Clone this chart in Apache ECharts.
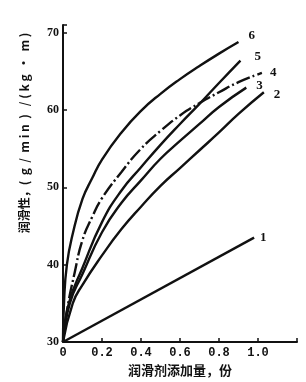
<!DOCTYPE html>
<html lang="zh">

<head>
  <meta charset="UTF-8">
  <title>润滑性</title>
  <style>
    html, body {
      margin: 0;
      padding: 0;
      background: #fff;
    }

    #chart {
      width: 306px;
      height: 382px;
    }
  </style>
</head>

<body>
  <div id="chart"></div>

  <script src="https://cdn.jsdelivr.net/npm/echarts@6/dist/echarts.min.js"></script>
  <script>
    // curve values: [additive parts, lubricity]
    const curve1 = [[0, 30], [0.98, 43.5]];
    const curve2 = [[0, 30], [0.05, 35], [0.1, 37.4], [0.2, 41.2], [0.3, 44.6], [0.4, 47.5], [0.5, 50.2], [0.6, 52.5], [0.7, 54.8], [0.8, 57.1], [0.9, 59.5], [1.03, 62.3]];
    const curve3 = [[0, 30], [0.035, 35], [0.1, 38.8], [0.2, 44.2], [0.3, 48], [0.4, 50.9], [0.5, 53.7], [0.6, 56], [0.7, 58.2], [0.8, 60.4], [0.94, 62.9]];
    const curve4 = [[0, 30], [0.02, 34], [0.06, 39], [0.1, 43.2], [0.15, 46.2], [0.2, 48.6], [0.3, 52], [0.4, 55], [0.5, 57.3], [0.6, 59.3], [0.7, 60.9], [0.8, 62.3], [0.9, 63.6], [1.02, 64.8]];
    const curve5 = [[0, 30], [0.03, 35], [0.1, 39.6], [0.2, 45.5], [0.3, 49.6], [0.4, 52.6], [0.5, 55.5], [0.6, 58.2], [0.7, 60.8], [0.8, 63.5], [0.91, 66.4]];
    const curve6 = [[0, 30], [0.005, 35], [0.02, 40], [0.05, 44], [0.1, 48.5], [0.15, 51.2], [0.2, 53.6], [0.3, 57.1], [0.4, 59.9], [0.5, 62.1], [0.6, 64], [0.7, 65.7], [0.8, 67.3], [0.9, 68.8]];

    const curveNames = ['1', '2', '3', '4', '5', '6'];
    const curveData = [curve1, curve2, curve3, curve4, curve5, curve6];
    // where each number sits relative to its curve end
    const labelOffsets = [[-2, 0], [2, 2], [2, -2], [0, 0], [6, -4], [2, -6]];

    const ink = '#111';

    const series = curveData.map((d, i) => ({
      name: curveNames[i],
      type: 'line',
      data: d,
      smooth: 0.5,
      showSymbol: false,
      lineStyle: {
        color: ink,
        width: 2.4,
        type: curveNames[i] === '4' ? [14, 3, 2, 3] : 'solid',
      },
      endLabel: {
        show: true,
        formatter: curveNames[i],
        color: ink,
        fontFamily: 'Liberation Serif',
        fontWeight: 'bold',
        fontSize: 13,
        offset: labelOffsets[i],
      },
      silent: true,
      z: 3,
    }));

    const chart = echarts.init(document.getElementById('chart'), null, { renderer: 'canvas' });

    chart.setOption({
      animation: false,
      backgroundColor: '#fff',
      grid: {
        left: 63,
        right: 9,
        top: 25,
        bottom: 40,
      },
      xAxis: {
        type: 'value',
        min: 0,
        max: 1.2,
        interval: 0.2,
        splitLine: { show: false },
        axisLine: { lineStyle: { color: ink, width: 2 } },
        axisTick: { inside: true, length: 4, lineStyle: { color: ink, width: 1.5 } },
        axisLabel: {
          color: ink,
          fontFamily: 'Liberation Mono',
          fontWeight: 'bold',
          fontSize: 12,
          margin: 5,
          formatter: v => v > 1.05 ? '' : (v === 0 ? '0' : v.toFixed(1)),
        },
      },
      yAxis: {
        type: 'value',
        min: 30,
        max: 71,
        interval: 10,
        splitLine: { show: false },
        axisLine: { lineStyle: { color: ink, width: 2 } },
        axisTick: { inside: true, length: 4, lineStyle: { color: ink, width: 1.5 } },
        axisLabel: {
          color: ink,
          fontFamily: 'Liberation Serif',
          fontWeight: 'bold',
          fontSize: 12,
          margin: 4,
          formatter: v => v % 10 === 0 ? String(v) : '',
        },
      },
      graphic: [
        {
          type: 'text',
          x: 24,
          y: 133,
          rotation: Math.PI / 2,
          style: {
            x: 0,
            y: 0,
            text: '润滑性，(  g  /  m i n  )   / ( k g  ·  m )',
            align: 'center',
            verticalAlign: 'middle',
            fill: ink,
            font: 'bold 12px "Noto Sans CJK SC"',
          },
        },
        {
          type: 'text',
          x: 180,
          y: 370,
          style: {
            x: 0,
            y: 0,
            text: '润滑剂添加量，份',
            align: 'center',
            verticalAlign: 'middle',
            fill: ink,
            font: 'bold 13px "Noto Sans CJK SC"',
          },
        },
      ],
      series,
    });
  </script>
</body>

</html>
